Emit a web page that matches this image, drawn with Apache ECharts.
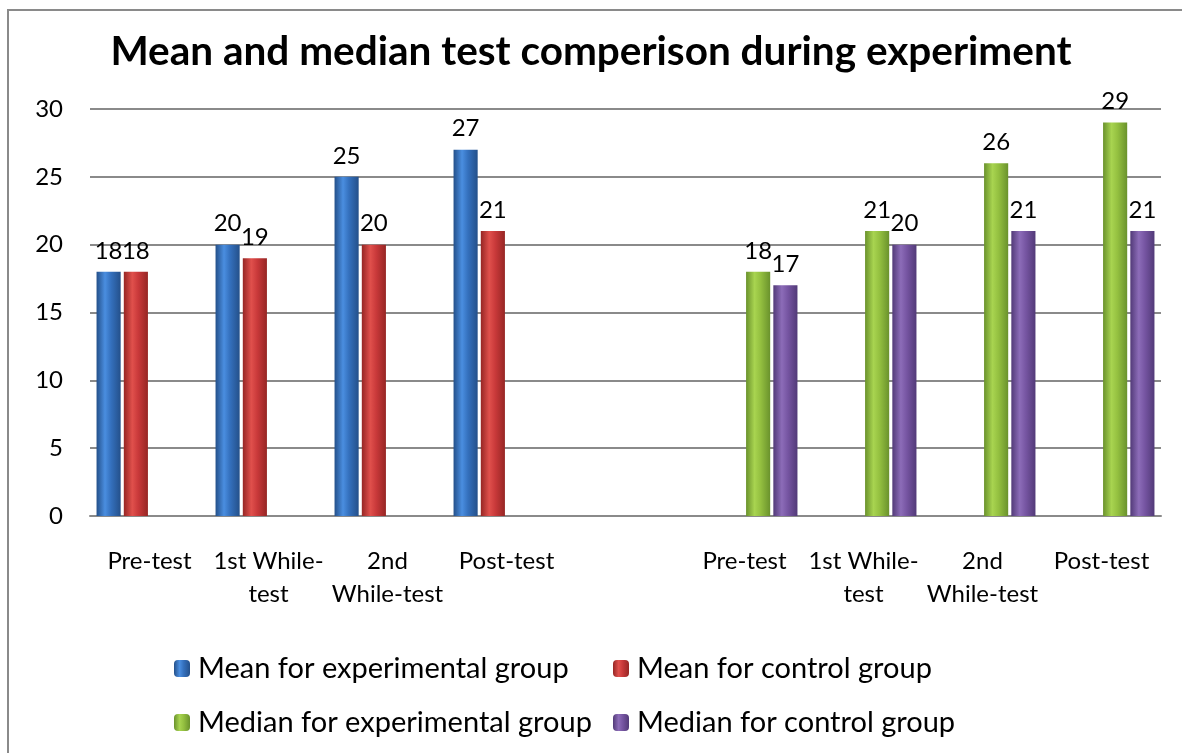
<!DOCTYPE html>
<html>
<head>
<meta charset="utf-8">
<title>Mean and median test comperison</title>
<script src="https://cdn.jsdelivr.net/npm/echarts@6/dist/echarts.min.js"></script>
<style>
    html, body { margin: 0; padding: 0; background: #fff; }
    #testChart { width: 1182px; height: 753px; }
</style>
</head>
<body>
<div id="testChart"></div>
<script>
// 横轴分类（中间空一格，把均值和中位数分开）
let categories = ['Pre-test', '1st While-\ntest', '2nd\nWhile-test', 'Post-test', '',
    'Pre-test', '1st While-\ntest', '2nd\nWhile-test', 'Post-test'];

// 各系列数据
let meanExperimental = [18, 20, 25, 27, null, null, null, null, null];
let meanControl = [18, 19, 20, 21, null, null, null, null, null];
let medianExperimental = [null, null, null, null, null, 18, 21, 26, 29];
let medianControl = [null, null, null, null, null, 17, 20, 21, 21];

let seriesNames = ['Mean for experimental group', 'Mean for control group',
    'Median for experimental group', 'Median for control group'];

// 纵轴刻度
let yMin = 0, yMax = 30, yStep = 5;

let fontName = 'Lato, "Liberation Sans", sans-serif';

// 柱子的横向渐变，模仿 Excel 的立体柱
function barColor(edge, mid, light) {
    return new echarts.graphic.LinearGradient(0, 0, 1, 0, [
        {offset: 0, color: edge},
        {offset: 0.35, color: light},
        {offset: 0.6, color: mid},
        {offset: 1, color: edge}
    ]);
}

function makeSeries(name, data, color) {
    return {
        name: name,
        type: 'bar',
        data: data,
        barGap: '13%',
        barCategoryGap: '11%',
        itemStyle: {color: color},
        label: {
            show: true,
            position: 'top',
            distance: 9,
            color: '#000',
            fontSize: 24,
            fontFamily: fontName
        }
    };
}

let myChart = echarts.init(document.getElementById('testChart'));

let legendText = {fontSize: 29, color: '#000', fontFamily: fontName, padding: [0, 0, 0, 3]};

let option = {
    backgroundColor: '#fff',
    animation: false,
    title: {
        text: 'Mean and median test comperison during experiment',
        left: 'center',
        top: 26,
        textStyle: {
            fontSize: 40.5,
            fontWeight: 'bold',
            color: '#000',
            fontFamily: fontName
        }
    },
    graphic: [{
        // 图表外框
        type: 'rect',
        silent: true,
        shape: {x: 8, y: 10, width: 1300, height: 900},
        style: {fill: 'none', stroke: '#8a8a8a', lineWidth: 2}
    }],
    legend: [{
        orient: 'vertical',
        left: 169,
        top: 649,
        itemWidth: 16,
        itemHeight: 17,
        itemGap: 25,
        textStyle: legendText,
        data: [seriesNames[0], seriesNames[2]]
    }, {
        orient: 'vertical',
        left: 608,
        top: 649,
        itemWidth: 16,
        itemHeight: 17,
        itemGap: 25,
        textStyle: legendText,
        data: [seriesNames[1], seriesNames[3]]
    }],
    grid: {
        left: 90,
        right: 21,
        top: 109,
        bottom: 237
    },
    xAxis: {
        type: 'category',
        data: categories,
        axisTick: {show: false},
        axisLine: {lineStyle: {color: '#8a8a8a', width: 2}},
        axisLabel: {
            interval: 0,
            margin: 29,
            color: '#000',
            fontSize: 24,
            lineHeight: 33,
            fontFamily: fontName
        }
    },
    yAxis: {
        type: 'value',
        min: yMin,
        max: yMax,
        interval: yStep,
        axisLine: {show: false},
        axisTick: {show: false},
        axisLabel: {
            margin: 27,
            color: '#000',
            fontSize: 24,
            fontFamily: fontName
        },
        splitLine: {lineStyle: {color: '#8a8a8a', width: 2}}
    },
    series: [
        makeSeries(seriesNames[0], meanExperimental, barColor('#24508a', '#3470bd', '#4a8ee0')),
        makeSeries(seriesNames[1], meanControl, barColor('#962624', '#c9393a', '#e0504c')),
        makeSeries(seriesNames[2], medianExperimental, barColor('#6a922c', '#94c040', '#a8d450')),
        makeSeries(seriesNames[3], medianControl, barColor('#523a78', '#7655a2', '#8c6cb8'))
    ]
};

myChart.setOption(option);
</script>
</body>
</html>
